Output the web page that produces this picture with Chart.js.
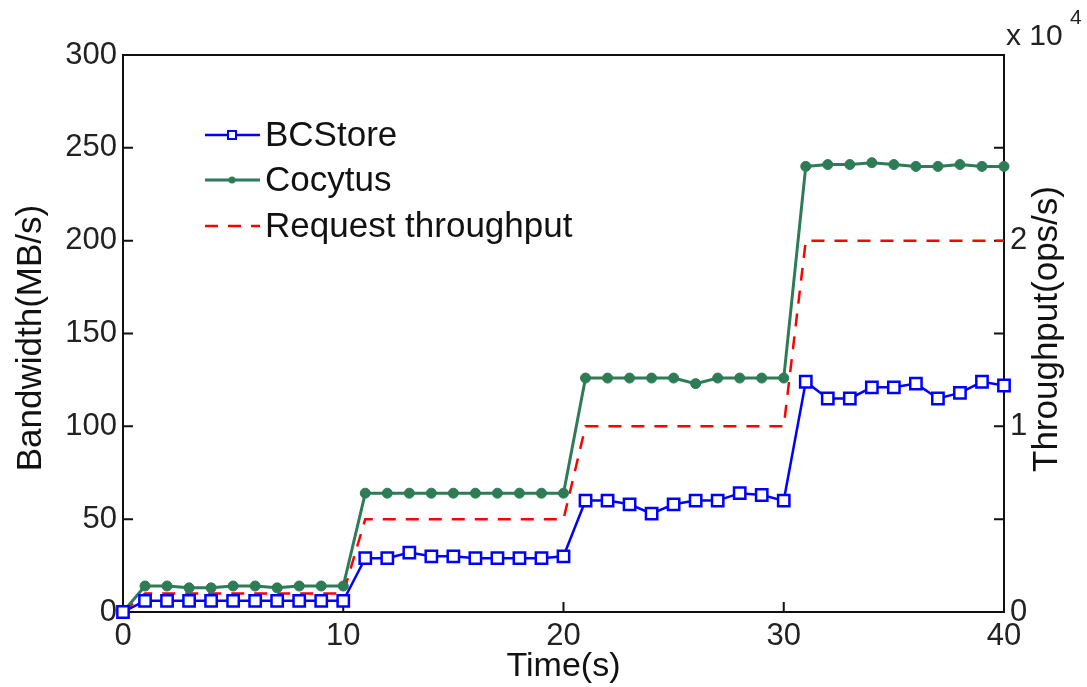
<!DOCTYPE html>
<html>
<head>
<meta charset="utf-8">
<script src="https://cdn.jsdelivr.net/npm/chart.js@4.4.1/dist/chart.umd.min.js"></script>
<style>
html, body { margin: 0; padding: 0; background: #fff; }
</style>
</head>
<body>
<canvas id="chart" width="1087" height="687"></canvas>
<script>
// data
const timeSec = [0, 1, 2, 3, 4, 5, 6, 7, 8, 9, 10,
    11, 12, 13, 14, 15, 16, 17, 18, 19, 20,
    21, 22, 23, 24, 25, 26, 27, 28, 29, 30,
    31, 32, 33, 34, 35, 36, 37, 38, 39, 40];

// MB/s, left axis
const bcstore = [0, 6, 6, 6, 6, 6, 6, 6, 6, 6, 6,
    29, 29, 32, 30, 30, 29, 29, 29, 29, 30,
    60, 60, 58, 53, 58, 60, 60, 64, 63, 60,
    124, 115, 115, 121, 121, 123, 115, 118, 124, 122];

const cocytus = [0, 14, 14, 13, 13, 14, 14, 13, 14, 14, 14,
    64, 64, 64, 64, 64, 64, 64, 64, 64, 64,
    126, 126, 126, 126, 126, 123, 126, 126, 126, 126,
    240, 241, 241, 242, 241, 240, 240, 241, 240, 240];

// ops/s x 10^4, right axis
const requestTp = [0, 0.1, 0.1, 0.1, 0.1, 0.1, 0.1, 0.1, 0.1, 0.1, 0.1,
    0.5, 0.5, 0.5, 0.5, 0.5, 0.5, 0.5, 0.5, 0.5, 0.5,
    1, 1, 1, 1, 1, 1, 1, 1, 1, 1,
    2, 2, 2, 2, 2, 2, 2, 2, 2, 2];

const xTicks = [0, 10, 20, 30, 40];
const leftTicks = [0, 50, 100, 150, 200, 250, 300];
const rightTicks = [0, 0.5, 1, 1.5, 2, 2.5, 3];
const rightLabels = ["0", "1", "2"];

const FONT = "'Liberation Sans', Arial, sans-serif";
const BLUE = "#0000ff";
const GREEN = "#2e7b57";
const RED = "#ff0000";

function pts(ys) {
    return timeSec.map((t, i) => ({ x: t, y: ys[i] }));
}

function vText(ctx, text, x, y) {
    ctx.save();
    ctx.translate(x, y);
    ctx.rotate(-Math.PI / 2);
    ctx.textAlign = "center";
    ctx.textBaseline = "middle";
    ctx.fillText(text, 0, 0);
    ctx.restore();
}

// box, inward ticks, axis titles, exponent label, legend
const frame = {
    id: "frame",
    beforeDatasetsDraw(chart) {
        const { ctx, chartArea: a, scales } = chart;
        ctx.save();
        ctx.strokeStyle = "#111";
        ctx.lineWidth = 2;
        ctx.strokeRect(a.left, a.top, a.right - a.left, a.bottom - a.top);
        ctx.beginPath();
        scales.x.ticks.forEach(t => {
            const px = scales.x.getPixelForValue(t.value);
            ctx.moveTo(px, a.bottom);
            ctx.lineTo(px, a.bottom - 10);
        });
        scales.y.ticks.forEach(t => {
            const py = scales.y.getPixelForValue(t.value);
            ctx.moveTo(a.left, py);
            ctx.lineTo(a.left + 10, py);
        });
        scales.y1.ticks.forEach(t => {
            const py = scales.y1.getPixelForValue(t.value);
            ctx.moveTo(a.right, py);
            ctx.lineTo(a.right - 10, py);
        });
        ctx.stroke();
        ctx.restore();
    },
    afterDraw(chart) {
        const { ctx, chartArea: a } = chart;
        ctx.save();
        ctx.fillStyle = "#222";
        ctx.textBaseline = "alphabetic";
        ctx.textAlign = "left";
        ctx.font = "30px " + FONT;
        ctx.fillText("x 10", a.right + 2, 45);
        ctx.font = "21px " + FONT;
        ctx.fillText("4", a.right + 66, 24);

        ctx.fillStyle = "#111";
        ctx.font = "35px " + FONT;
        vText(ctx, "Bandwidth(MB/s)", 31, 338);
        vText(ctx, "Throughput(ops/s)", 1047, 329);

        // legend inside the plot
        const rows = [135, 180, 226];
        chart.data.datasets.forEach((ds, i) => {
            const y = rows[i];
            ctx.save();
            ctx.strokeStyle = ds.borderColor;
            ctx.lineWidth = ds.borderWidth;
            ctx.setLineDash(ds.borderDash || []);
            ctx.beginPath();
            ctx.moveTo(205, y);
            ctx.lineTo(260, y);
            ctx.stroke();
            ctx.restore();
            if (ds.pointRadius > 0) {
                ctx.save();
                ctx.strokeStyle = ds.pointBorderColor;
                ctx.fillStyle = ds.pointBackgroundColor;
                ctx.lineWidth = 2;
                if (ds.pointStyle === "rect") {
                    ctx.fillRect(228, y - 4, 8, 8);
                    ctx.strokeRect(228, y - 4, 8, 8);
                } else {
                    ctx.beginPath();
                    ctx.arc(232, y, 3.5, 0, Math.PI * 2);
                    ctx.fill();
                }
                ctx.restore();
            }
            ctx.fillStyle = "#111";
            ctx.font = "35px " + FONT;
            ctx.textBaseline = "middle";
            ctx.fillText(ds.label, 265, y + 1);
        });
        ctx.restore();
    }
};

new Chart(document.getElementById("chart"), {
    type: "line",
    data: {
        datasets: [
            {
                label: "BCStore",
                data: pts(bcstore),
                yAxisID: "y",
                borderColor: BLUE,
                borderWidth: 2.5,
                pointStyle: "rect",
                pointRadius: 8,
                pointBorderColor: BLUE,
                pointBackgroundColor: "#fff",
                pointBorderWidth: 2.5,
                clip: 20,
                order: 1
            },
            {
                label: "Cocytus",
                data: pts(cocytus),
                yAxisID: "y",
                borderColor: GREEN,
                borderWidth: 3,
                pointStyle: "circle",
                pointRadius: 5,
                pointBorderColor: GREEN,
                pointBackgroundColor: GREEN,
                pointBorderWidth: 1,
                clip: 20,
                order: 2
            },
            {
                label: "Request throughput",
                data: pts(requestTp),
                yAxisID: "y1",
                borderColor: RED,
                borderWidth: 2.5,
                borderDash: [13, 10],
                pointRadius: 0,
                clip: 20,
                order: 3
            }
        ]
    },
    options: {
        responsive: false,
        animation: false,
        devicePixelRatio: 1,
        layout: { padding: { top: 55, left: 0, right: 0, bottom: 0 } },
        plugins: {
            legend: { display: false },
            tooltip: { enabled: false }
        },
        elements: { line: { tension: 0 } },
        scales: {
            x: {
                type: "linear",
                min: 0,
                max: 40,
                afterBuildTicks: s => { s.ticks = xTicks.map(v => ({ value: v })); },
                grid: { display: false, drawTicks: false },
                border: { display: false },
                ticks: {
                    color: "#222",
                    font: { family: FONT, size: 31 },
                    padding: 6,
                    maxRotation: 0
                },
                title: {
                    display: true,
                    text: "Time(s)",
                    color: "#111",
                    font: { family: FONT, size: 34 },
                    padding: { top: -12, bottom: 0 }
                },
                afterFit: s => { s.height = 75; }
            },
            y: {
                position: "left",
                min: 0,
                max: 300,
                afterBuildTicks: s => { s.ticks = leftTicks.map(v => ({ value: v })); },
                grid: { display: false, drawTicks: false },
                border: { display: false },
                ticks: {
                    color: "#222",
                    font: { family: FONT, size: 31 },
                    padding: 6
                },
                afterFit: s => { s.width = 123; }
            },
            y1: {
                position: "right",
                min: 0,
                max: 3,
                afterBuildTicks: s => { s.ticks = rightTicks.map(v => ({ value: v })); },
                grid: { display: false, drawTicks: false },
                border: { display: false },
                ticks: {
                    color: "#222",
                    font: { family: FONT, size: 31 },
                    padding: 6,
                    callback: v => (Number.isInteger(v) && v < 3 ? rightLabels[v] : "")
                },
                afterFit: s => { s.width = 83; }
            }
        }
    },
    plugins: [frame]
});
</script>
</body>
</html>
